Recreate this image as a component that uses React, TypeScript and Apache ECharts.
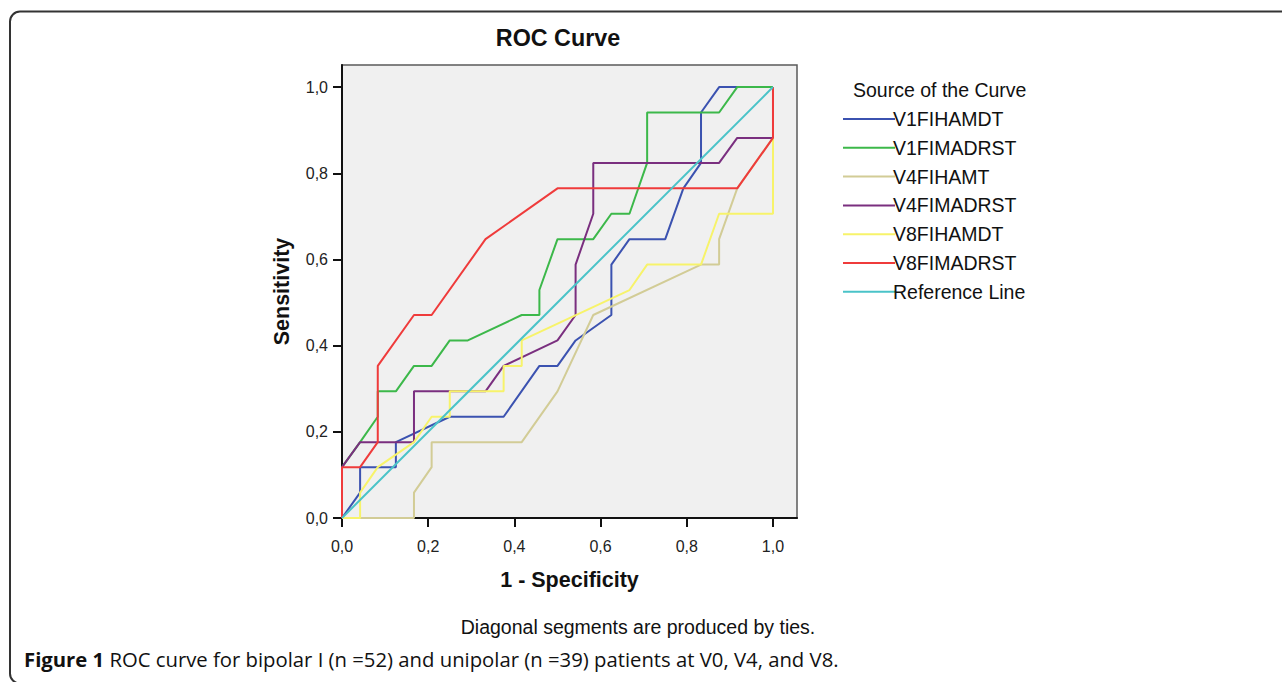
import { useEffect, useRef } from 'react';
import * as echarts from 'echarts';

const seriesNames = ['V1FIHAMDT', 'V1FIMADRST', 'V4FIHAMT', 'V4FIMADRST', 'V8FIHAMDT', 'V8FIMADRST', 'Reference Line'];
const seriesColors = ['#3b52b0', '#3cb84a', '#d2cc96', '#7a2f7f', '#f7f36a', '#ef3b3b', '#4ac3c8'];

const v1fihamdt: [number, number][] = [
  [0, 0], [0.042, 0.059], [0.042, 0.118], [0.125, 0.118], [0.125, 0.176], [0.25, 0.235], [0.375, 0.235],
  [0.458, 0.353], [0.5, 0.353], [0.542, 0.412], [0.625, 0.471], [0.625, 0.588], [0.667, 0.647], [0.75, 0.647],
  [0.792, 0.765], [0.833, 0.824], [0.833, 0.941], [0.875, 1], [1, 1],
];
const v1fimadrst: [number, number][] = [
  [0, 0], [0, 0.118], [0.042, 0.176], [0.083, 0.235], [0.083, 0.294], [0.125, 0.294], [0.167, 0.353],
  [0.208, 0.353], [0.25, 0.412], [0.292, 0.412], [0.417, 0.471], [0.458, 0.471], [0.458, 0.529], [0.5, 0.647],
  [0.583, 0.647], [0.625, 0.706], [0.667, 0.706], [0.708, 0.824], [0.708, 0.941], [0.875, 0.941], [0.917, 1], [1, 1],
];
const v4fihamt: [number, number][] = [
  [0, 0], [0.167, 0], [0.167, 0.059], [0.208, 0.118], [0.208, 0.176], [0.417, 0.176], [0.5, 0.294],
  [0.583, 0.471], [0.833, 0.588], [0.875, 0.588], [0.875, 0.647], [0.917, 0.765], [1, 0.882], [1, 1],
];
const v4fimadrst: [number, number][] = [
  [0, 0], [0, 0.118], [0.042, 0.176], [0.167, 0.176], [0.167, 0.294], [0.333, 0.294], [0.375, 0.353],
  [0.5, 0.412], [0.542, 0.471], [0.542, 0.588], [0.583, 0.706], [0.583, 0.824], [0.875, 0.824],
  [0.917, 0.882], [1, 0.882], [1, 1],
];
const v8fihamdt: [number, number][] = [
  [0, 0], [0.042, 0], [0.042, 0.059], [0.083, 0.118], [0.167, 0.176], [0.208, 0.235], [0.25, 0.235],
  [0.25, 0.294], [0.375, 0.294], [0.375, 0.353], [0.417, 0.353], [0.417, 0.412], [0.667, 0.529],
  [0.708, 0.588], [0.833, 0.588], [0.875, 0.706], [1, 0.706], [1, 0.882], [1, 1],
];
const v8fimadrst: [number, number][] = [
  [0, 0], [0, 0.118], [0.042, 0.118], [0.083, 0.176], [0.083, 0.353], [0.167, 0.471], [0.208, 0.471],
  [0.333, 0.647], [0.5, 0.765], [0.917, 0.765], [1, 0.882], [1, 1],
];
const referenceLine: [number, number][] = [[0, 0], [1, 1]];

const allData = [v1fihamdt, v1fimadrst, v4fihamt, v4fimadrst, v8fihamdt, v8fimadrst, referenceLine];
const tickValues = [0, 0.2, 0.4, 0.6, 0.8, 1.0];

const FONT = '"Liberation Sans", Arial, sans-serif';
const CAPTION_FONT = '"Open Sans", "Noto Sans", sans-serif';
const fmt = (v: number) => v.toFixed(1).replace('.', ',');

export default function App() {
  const ref = useRef<HTMLDivElement>(null);
  useEffect(() => {
    const chart = echarts.init(ref.current!, null, { renderer: 'svg' });
    const option: any = {
      animation: false,
      backgroundColor: '#ffffff',
      grid: {
        left: 342, top: 65, width: 455, height: 453,
        show: true, backgroundColor: '#f0f0f0', borderColor: '#5a5a5a', borderWidth: 1.5,
      },
      xAxis: {
        type: 'value', min: 0, max: 1.0557,
        name: '1 - Specificity', nameLocation: 'middle', nameGap: 51,
        nameTextStyle: { fontFamily: FONT, fontSize: 21.5, fontWeight: 'bold', color: '#111' },
        axisLine: { show: true, lineStyle: { color: '#111', width: 2 } },
        axisTick: { show: true, length: 9, customValues: tickValues, lineStyle: { color: '#111', width: 2 } },
        axisLabel: { customValues: tickValues, formatter: fmt, fontFamily: FONT, fontSize: 16, color: '#222', margin: 20 },
        splitLine: { show: false },
      },
      yAxis: {
        type: 'value', min: 0, max: 1.0512,
        name: 'Sensitivity', nameLocation: 'middle', nameGap: 49, nameRotate: 90,
        nameTextStyle: { fontFamily: FONT, fontSize: 21.5, fontWeight: 'bold', color: '#111' },
        axisLine: { show: true, lineStyle: { color: '#111', width: 2 } },
        axisTick: { show: true, length: 9, customValues: tickValues, lineStyle: { color: '#111', width: 2 } },
        axisLabel: { customValues: tickValues, formatter: fmt, fontFamily: FONT, fontSize: 16, color: '#222', margin: 14 },
        splitLine: { show: false },
      },
      legend: {
        data: seriesNames,
        orient: 'vertical', left: 843, top: 104.6, padding: 0, itemGap: 0,
        icon: 'rect', itemWidth: 52, itemHeight: 2, selectedMode: false,
        textStyle: { fontFamily: FONT, fontSize: 19.5, lineHeight: 28.8, color: '#111', padding: [0, 0, 0, -7] },
      },
      series: seriesNames.map((name, i) => ({
        name, type: 'line', data: allData[i], symbol: 'none', showSymbol: false,
        color: seriesColors[i],
        lineStyle: { color: seriesColors[i], width: 2 },
        itemStyle: { color: seriesColors[i] },
        z: 2 + i * 0.01,
      })),
      graphic: [
        {
          type: 'rect', z: -10, silent: true,
          shape: { x: 10, y: 11.5, width: 1300, height: 672, r: 10 },
          style: { fill: 'none', stroke: '#333', lineWidth: 2 },
        },
        {
          type: 'text', x: 558, y: 38,
          style: { text: 'ROC Curve', fontFamily: FONT, fontSize: 23.3, fontWeight: 'bold', fill: '#111', align: 'center', verticalAlign: 'middle' },
        },
        {
          type: 'text', x: 853, y: 90,
          style: { text: 'Source of the Curve', fontFamily: FONT, fontSize: 19.5, fill: '#111', align: 'left', verticalAlign: 'middle' },
        },
        {
          type: 'text', x: 638, y: 627,
          style: { text: 'Diagonal segments are produced by ties.', fontFamily: FONT, fontSize: 19.5, fill: '#111', align: 'center', verticalAlign: 'middle' },
        },
        {
          type: 'text', x: 24, y: 659,
          style: {
            text: '{b|Figure 1} {r|ROC curve for bipolar I (n =52) and unipolar (n =39) patients at V0, V4, and V8.}',
            verticalAlign: 'middle', align: 'left',
            rich: {
              b: { fontFamily: CAPTION_FONT, fontSize: 20.3, fontWeight: 'bold', fill: '#111' },
              r: { fontFamily: CAPTION_FONT, fontSize: 20.3, fill: '#111' },
            },
            fontFamily: CAPTION_FONT, fontSize: 20.3, fill: '#111',
          },
        },
      ],
    };
    chart.setOption(option);
    return () => chart.dispose();
  }, []);
  return <div ref={ref} style={{ position: 'fixed', left: 0, top: 0, width: 1282, height: 682, background: '#fff' }} />;
}
